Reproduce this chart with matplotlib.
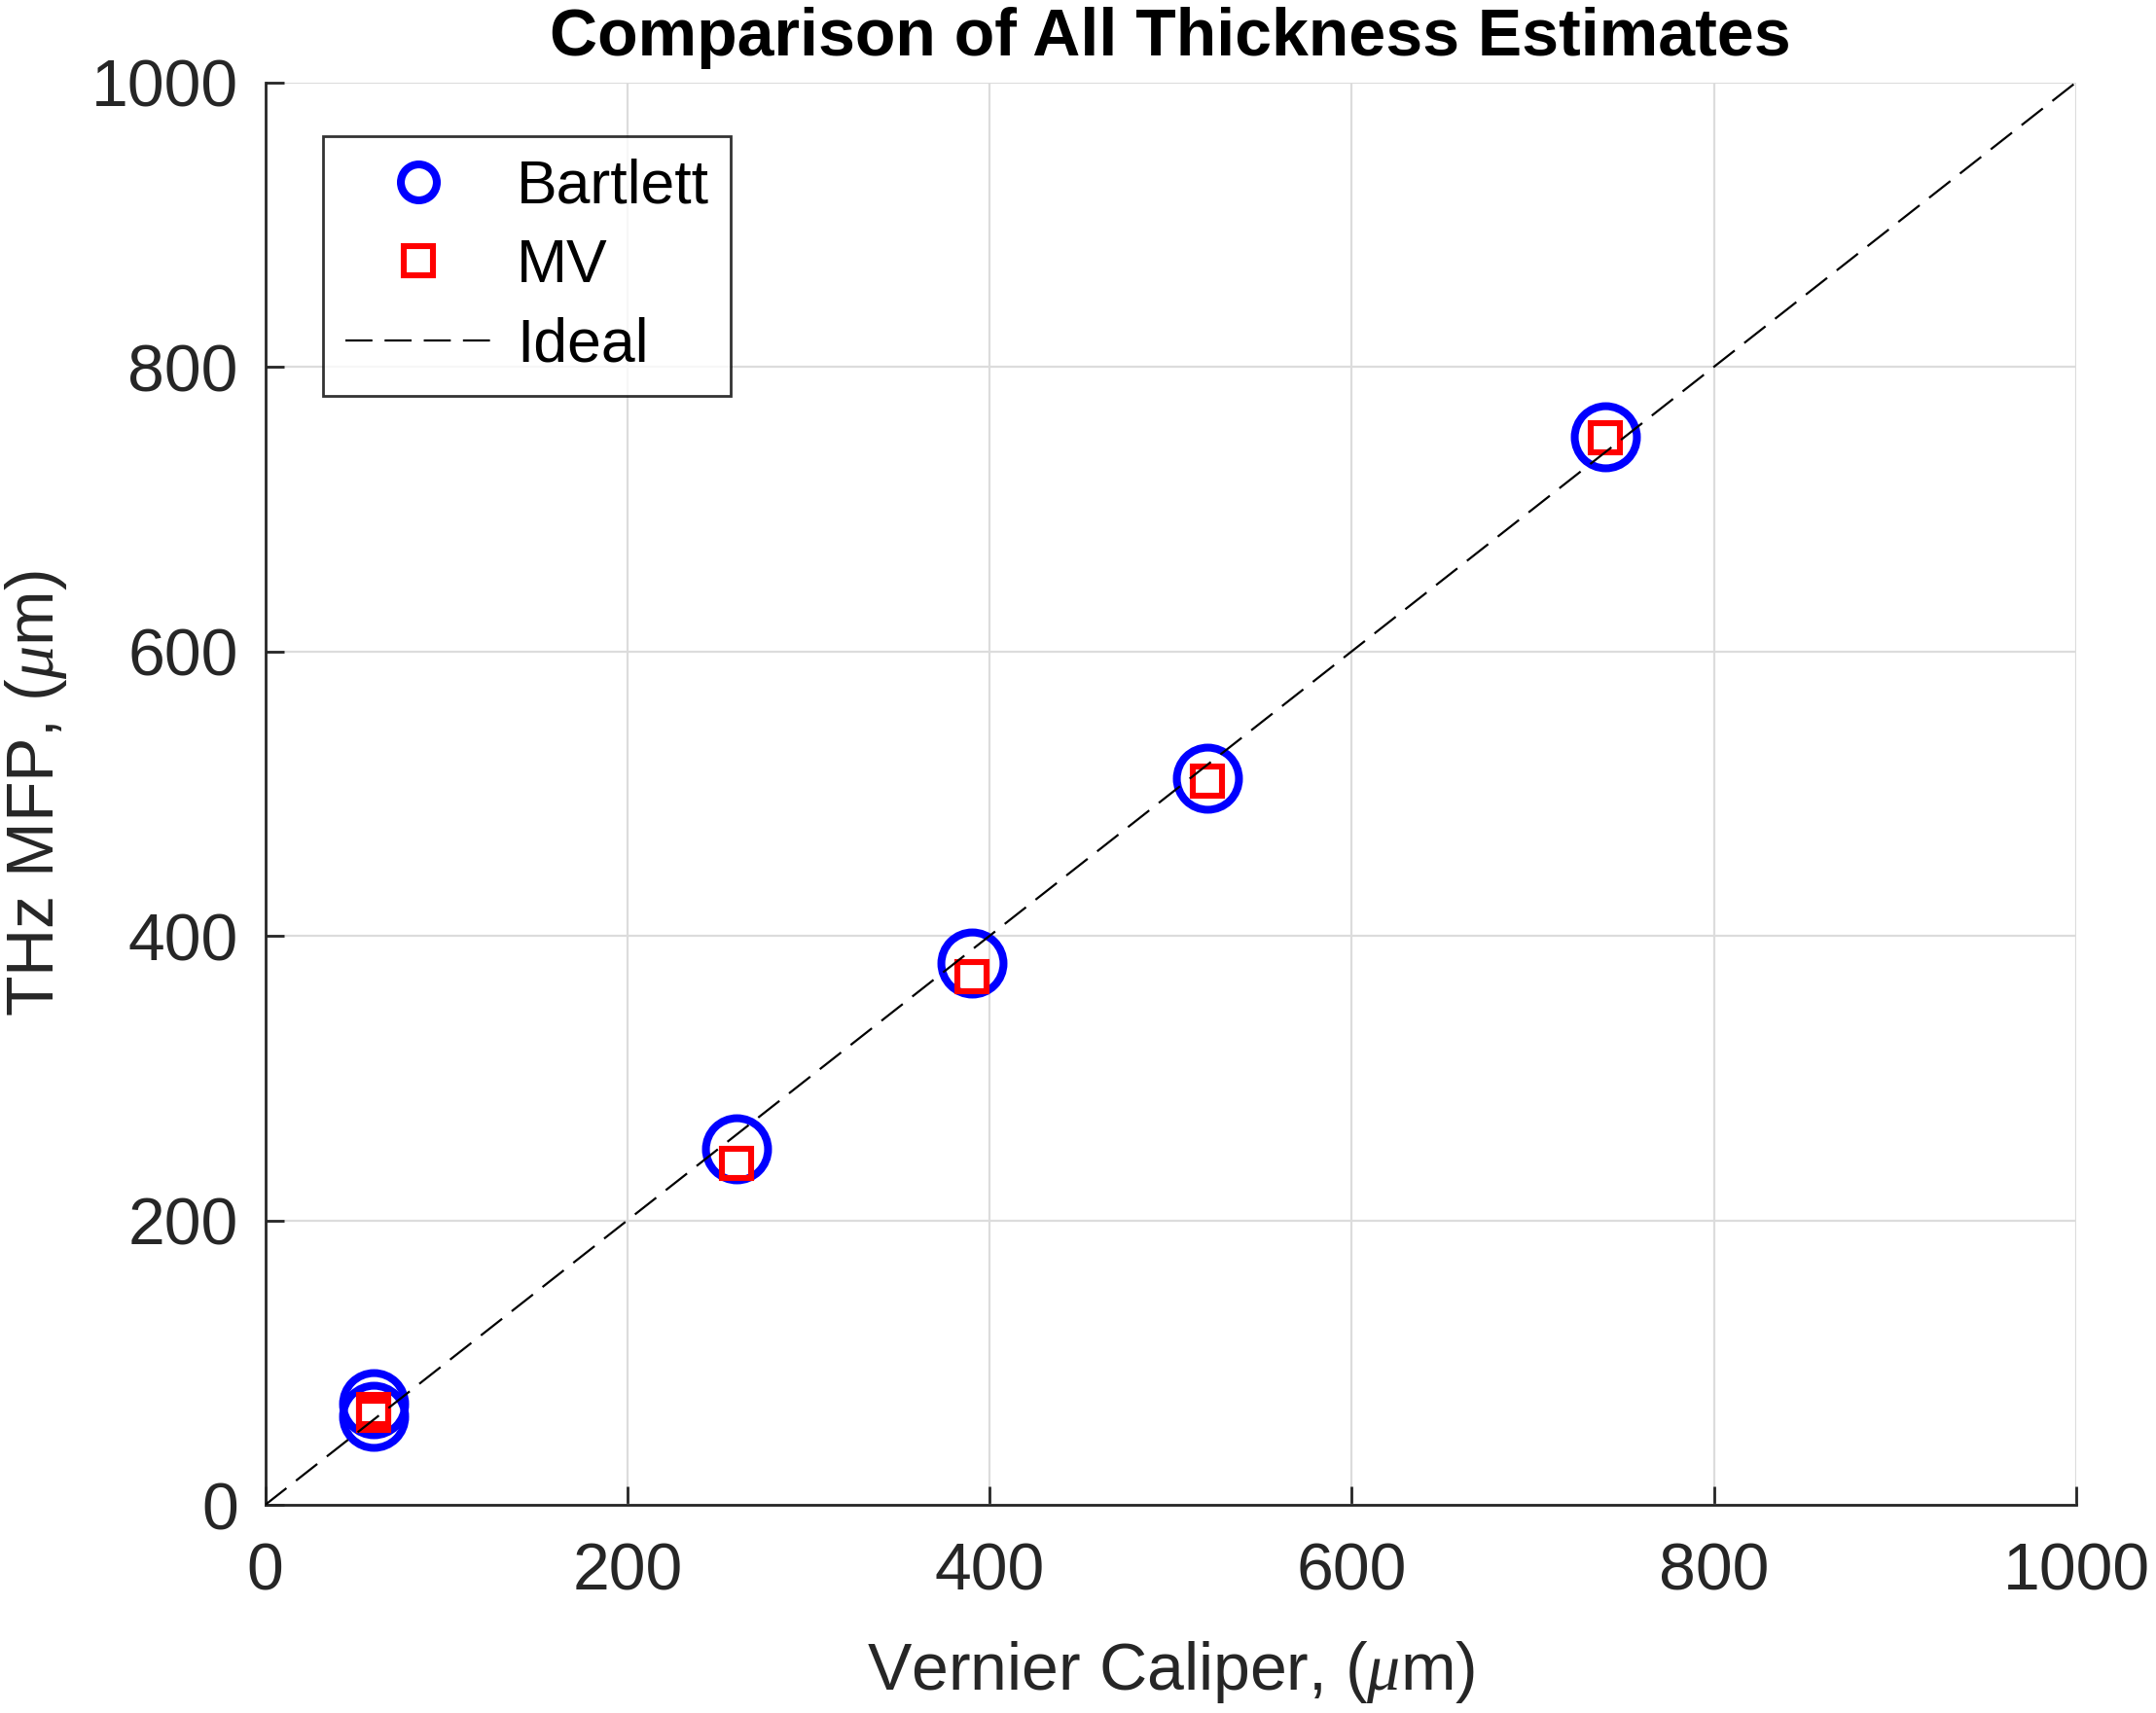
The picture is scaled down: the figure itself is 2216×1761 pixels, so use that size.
import matplotlib
matplotlib.use("Agg")
import matplotlib.pyplot as plt
from matplotlib.lines import Line2D

plt.rcParams['font.family'] = ['Liberation Sans', 'DejaVu Sans']
plt.rcParams['mathtext.fontset'] = 'custom'
plt.rcParams['mathtext.it'] = 'Liberation Serif:italic'
plt.rcParams['mathtext.rm'] = 'Liberation Sans'
plt.rcParams['lines.scale_dashes'] = False

# data
caliper = [60, 60, 260, 390, 520, 740]
bartlett = [71, 62, 250, 381, 511, 751]
mv = [67, 63, 240, 371, 509, 750]
ideal = [0, 1000]
xticks = [0, 200, 400, 600, 800, 1000]
yticks = [0, 200, 400, 600, 800, 1000]

fig = plt.figure(figsize=(11.08, 8.805), dpi=200)
ax = fig.add_axes([0.123, 0.1215, 0.840, 0.8305])

dark = '#262626'
blue = '#0000ff'
red = '#ff0000'
dash = (10, 4.5)
ax.plot(caliper, bartlett, linestyle='none', marker='o', markersize=23,
        markerfacecolor='none', markeredgecolor=blue, markeredgewidth=2.9,
        zorder=3)
ax.plot(caliper, mv, linestyle='none', marker='s', markersize=10.5,
        markerfacecolor='none', markeredgecolor=red, markeredgewidth=2.2,
        zorder=4)
ax.plot(ideal, ideal, color='black', linewidth=0.8, dashes=dash, zorder=5)

ax.set_xlim(0, 1000)
ax.set_ylim(0, 1000)
ax.set_xticks(xticks)
ax.set_yticks(yticks)
ax.grid(True, color='#dcdcdc', linewidth=0.8)
ax.set_axisbelow(True)
for s in ['top', 'right']:
    ax.spines[s].set_visible(False)
for s in ['left', 'bottom']:
    ax.spines[s].set_color(dark)
    ax.spines[s].set_linewidth(1.0)
ax.tick_params(direction='in', length=7, width=1.0, color=dark,
               labelsize=24.5, labelcolor=dark)
ax.tick_params(axis='x', pad=13.5)
ax.tick_params(axis='y', pad=10)

ax.set_xlabel(r'Vernier Caliper, ($\mu$m)', fontsize=24.5, color=dark, labelpad=13)
ax.set_ylabel(r'THz MFP, ($\mu$m)', fontsize=24.5, color=dark, labelpad=8)
ax.set_title('Comparison of All Thickness Estimates', fontsize=24.5,
             fontweight='bold', color='black', pad=10)

handles = [
    Line2D([], [], linestyle='none', marker='o', markersize=13.3,
           markerfacecolor='none', markeredgecolor=blue, markeredgewidth=2.9),
    Line2D([], [], linestyle='none', marker='s', markersize=10.5,
           markerfacecolor='none', markeredgecolor=red, markeredgewidth=2.2),
    Line2D([], [], color='black', linewidth=0.8, dashes=dash),
]
labels = ['Bartlett', 'MV', 'Ideal']
leg = ax.legend(handles, labels, loc='upper left', bbox_to_anchor=(0.032, 0.962),
                fontsize=22.5, frameon=True, fancybox=False, edgecolor='black',
                handlelength=2.4, handletextpad=0.42, borderpad=0.36,
                labelspacing=0.36, borderaxespad=0)
leg.get_frame().set_linewidth(1.0)
for t in leg.get_texts():
    t.set_color('black')

fig.savefig('out.png', dpi=200, facecolor='white')
